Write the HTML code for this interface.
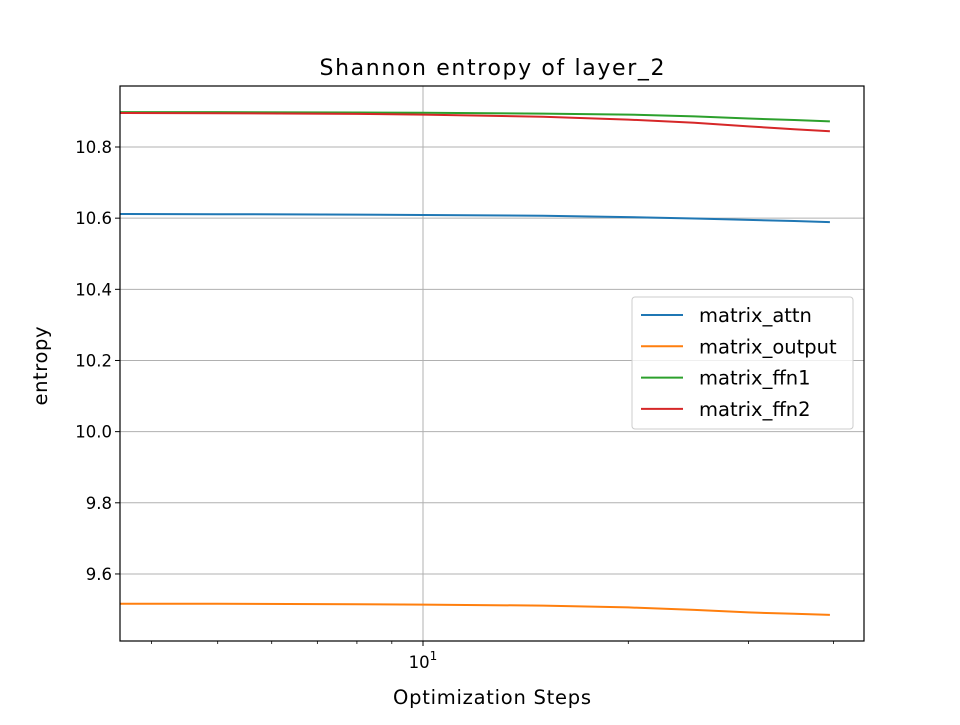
<!DOCTYPE html>
<html><head><meta charset="utf-8"><style>
body{margin:0;background:#fff}
svg text{font-family:"DejaVu Sans","Liberation Sans",sans-serif;fill:#000}
</style></head><body>
<svg id="chart" width="960" height="720">
<rect width="960" height="720" fill="#fff"/>
<text x="492" y="75" font-size="22" text-anchor="middle" textLength="345">Shannon entropy of layer_2</text>
<g id="grid"></g>
<defs><clipPath id="clip"><rect x="120" y="86" width="744" height="555"/></clipPath></defs>
<g id="lines" clip-path="url(#clip)"></g>
<rect x="120" y="86" width="744" height="555" fill="none" stroke="#000" stroke-width="1.2"/>
<g id="axes"></g>
<text x="492" y="704" font-size="19.5" text-anchor="middle" textLength="198">Optimization Steps</text>
<text transform="translate(47,366) rotate(-90)" font-size="19.5" text-anchor="middle" textLength="79">entropy</text>
<g id="legend"></g>
</svg>
<script>
const steps=[3,5,8,10,15,20,25,30,35,39.5];
const attn=[10.612,10.611,10.610,10.609,10.607,10.603,10.599,10.595,10.592,10.589];
const outp=[9.516,9.516,9.515,9.514,9.511,9.506,9.499,9.492,9.488,9.485];
const ffn1=[10.898,10.898,10.897,10.896,10.894,10.891,10.886,10.880,10.876,10.872];
const ffn2=[10.896,10.895,10.893,10.891,10.885,10.877,10.868,10.858,10.850,10.844];
const seriesNames=["matrix_attn","matrix_output","matrix_ffn1","matrix_ffn2"];
const colors=["#1f77b4","#ff7f0e","#2ca02c","#d62728"];
const yTicks=[9.6,9.8,10.0,10.2,10.4,10.6,10.8];
const minorX=[4,5,6,7,8,9,20,30,40];
const NS="http://www.w3.org/2000/svg";
const X=v=>423+682*(Math.log10(v)-1);
const Y=v=>147-(v-10.8)*355.8;
function mk(t,a,p){const e=document.createElementNS(NS,t);for(const k in a)e.setAttribute(k,a[k]);p.appendChild(e);return e;}
const grid=document.getElementById('grid'),axes=document.getElementById('axes');
yTicks.forEach(v=>{
 const g=mk('line',{x1:120,x2:864,y1:Y(v),y2:Y(v),stroke:'#b0b0b0','stroke-width':1},grid);
 
 
 mk('line',{x1:115,x2:120,y1:Y(v),y2:Y(v),stroke:'#000'},axes);
 const t=mk('text',{x:112,y:Y(v)+6,'font-size':16.5,'text-anchor':'end'},axes);
 t.textContent=v.toFixed(1);
 
 
});
const gx=mk('line',{x1:X(10),x2:X(10),y1:86,y2:641,stroke:'#b0b0b0'},grid);


mk('line',{x1:X(10),x2:X(10),y1:641,y2:646,stroke:'#000'},axes);
const xt=mk('text',{x:X(10),y:668,'font-size':16.5,'text-anchor':'middle'},axes);
xt.innerHTML='10<tspan dy="-8" font-size="12">1</tspan>';


minorX.forEach(v=>{mk('line',{x1:X(v),x2:X(v),y1:641,y2:644,stroke:'#000','stroke-width':0.8},axes);});
const lines=document.getElementById('lines');
[attn,outp,ffn1,ffn2].forEach((s,i)=>{
 const p=mk('path',{d:s.map((v,j)=>(j?'L':'M')+X(steps[j]).toFixed(1)+','+Y(v).toFixed(1)).join(''),fill:'none',stroke:colors[i],'stroke-width':2},lines);
 
 
});
const lg=document.getElementById('legend');
mk('rect',{x:632,y:297,width:221,height:132,rx:3,fill:'#fff','fill-opacity':0.8,stroke:'#ccc'},lg);
seriesNames.forEach((n,i)=>{
 const y=315+i*31.3;
 mk('line',{x1:641,x2:683,y1:y,y2:y,stroke:colors[i],'stroke-width':2},lg);
 const t=mk('text',{x:699,y:y+7,'font-size':19.5},lg);
 t.textContent=n;
 
 
});
</script>
</body></html>
